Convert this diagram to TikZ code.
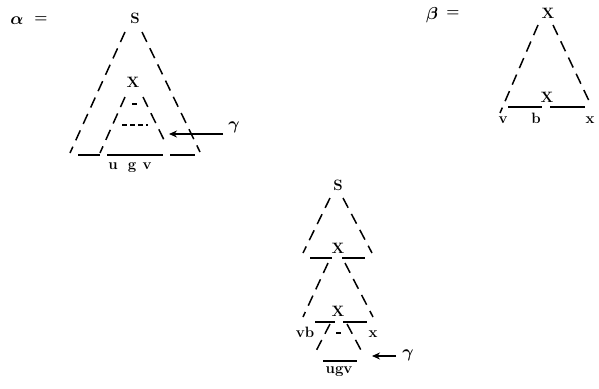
\documentclass[tikz,border=0pt]{standalone}
\usepackage{bm}
\usetikzlibrary{arrows.meta}
\begin{document}
\begin{tikzpicture}[x=1pt,y=-1pt,
  lab/.style={font=\fontsize{15}{17}\selectfont\bfseries,inner sep=1pt},
  grk/.style={font=\fontsize{17}{19}\selectfont,inner sep=1pt},
  dsh/.style={line width=1.5pt,dash pattern=on 11pt off 7pt},
  base/.style={line width=1.6pt},
  ptr/.style={line width=1.6pt,-{Stealth[length=8pt,width=7pt]}}]
\useasboundingbox (0,0) rectangle (599,388);

% alpha
\node[grk] (alab) at (17,21) {$\bm\alpha$};
\node[lab] (aeq) at (41,20) {=};
\node[lab] (aS) at (135,18) {S};
\draw[dsh] (125,32) -- (70,153);
\draw[dsh] (142,32) -- (200,152);
\draw[base] (78,155) -- (100,155);
\draw[base] (107,155) -- (163,155);
\draw[base] (170,155) -- (195,155);
\node[lab] (aX) at (133,82) {X};
\draw[dsh] (125,97) -- (100,153);
\draw[dsh] (143,97) -- (165,142);
\draw[line width=1.3pt] (132,104) -- (137,104);
\draw[line width=1.3pt,dash pattern=on 5pt off 3pt] (122,125) -- (148,125);
\node[lab,anchor=base] (au) at (113,169) {u};
\node[lab,anchor=base] (ag) at (132,169) {g};
\node[lab,anchor=base] (av) at (147,169) {v};
\node[grk] (agam) at (234,127) {$\bm\gamma$};
\coordinate (ahead) at (169,134);
\draw[ptr] (223,134) -- (ahead);

% beta
\node[grk] (blab) at (432,15) {$\bm\beta$};
\node[lab] (beq) at (453,14) {=};
\node[lab] (bX) at (548,13) {X};
\draw[dsh] (538,25) -- (500,113);
\draw[dsh] (553,25) -- (590,103);
\node[lab] (bXm) at (547,97) {X};
\draw[base] (508,107) -- (542,107);
\draw[base] (550,107) -- (585,107);
\node[lab,anchor=base] (bv) at (503,123) {v};
\node[lab,anchor=base] (bb) at (536,123) {b};
\node[lab,anchor=base] (bx) at (590,123) {x};

% gamma
\node[lab] (cS) at (338,185) {S};
\draw[dsh] (330,198) -- (303,253);
\draw[dsh] (343,198) -- (372,253);
\node[lab] (cX1) at (338,248) {X};
\draw[base] (310,258) -- (332,258);
\draw[base] (342,258) -- (365,258);
\draw[dsh] (328,263) -- (303,317);
\draw[dsh] (345,263) -- (373,317);
\node[lab] (cX2) at (338,311) {X};
\draw[base] (315,322) -- (335,322);
\draw[base] (343,322) -- (367,322);
\node[lab,anchor=base] (cvb) at (305,337) {vb};
\node[lab,anchor=base] (cx) at (373,337) {x};
\draw[dsh] (330,324) -- (315,353);
\draw[dsh] (347,324) -- (362,352);
\draw[line width=1.3pt] (336,333) -- (341,333);
\draw[base] (323,361) -- (357,361);
\node[lab,anchor=base] (cugv) at (339,373) {ugv};
\node[grk] (cgam) at (408,355) {$\bm\gamma$};
\coordinate (chead) at (372,356);
\draw[ptr] (396,356) -- (chead);
\end{tikzpicture}
\end{document}
